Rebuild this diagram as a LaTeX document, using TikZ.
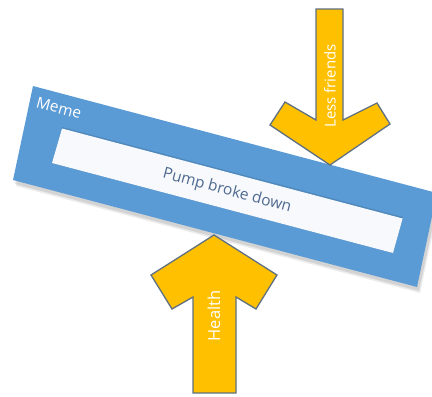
\documentclass[tikz,border=0pt]{standalone}
\usepackage{fontspec}
\setmainfont{Open Sans}
\definecolor{memeblue}{HTML}{5B9BD5}
\definecolor{inner}{HTML}{F7F9FC}
\definecolor{arrowfill}{HTML}{FFC000}
\definecolor{arrowline}{HTML}{5F7080}
\definecolor{pumptext}{HTML}{4F6A90}
\tikzset{
  yarrow/.style={fill=arrowfill, draw=arrowline, line width=1.3pt, line join=miter},
  arrowtext/.style={text=white, rotate=90, inner sep=0pt},
}
\begin{document}
\begin{tikzpicture}[x=1pt,y=-1pt]
\useasboundingbox (0,0) rectangle (432,397);
\begin{scope}
\clip (0,0) rectangle (432,397);
% shadow of the meme box
\fill[black, opacity=0.10] (35,90) -- (15,184) -- (419,291) -- (439,197) -- cycle;
\fill[black, opacity=0.08] (36,92) -- (16,186) -- (420,293) -- (440,199) -- cycle;
% meme box
\fill[memeblue] (33,86) -- (13,180) -- (417,287) -- (437,193) -- cycle;
\fill[black, opacity=0.12] (62,127) -- (52,163) -- (393,253) -- (403,217) -- cycle;
\fill[inner] (62,128.5) -- (52,163) -- (393,253) -- (402.6,218.5) -- cycle;
\end{scope}
\node[text=white, font=\fontsize{15.5}{18}\selectfont, rotate=-15, inner sep=0pt] (meme) at (59,108) {Meme};
\node[text=pumptext, font=\fontsize{15.5}{18}\selectfont, rotate=-15, inner sep=0pt] (pump) at (227,191) {Pump broke down};
% top arrow
\draw[yarrow] (316,9) -- (316,120) -- (285,102) -- (270,125) -- (330,165) -- (390,124) -- (377,103) -- (343,120) -- (343,9) -- cycle;
% bottom arrow
\draw[yarrow] (193,393) -- (193,297) -- (172,309) -- (151,275) -- (214,235) -- (277,275) -- (256,309) -- (236,297) -- (236,393) -- cycle;
\node[arrowtext, font=\fontsize{15}{18}\selectfont] (less) at (330,86) {Less friends};
\node[arrowtext, font=\fontsize{16.5}{18}\selectfont] (health) at (214,316) {Health};
\end{tikzpicture}
\end{document}
